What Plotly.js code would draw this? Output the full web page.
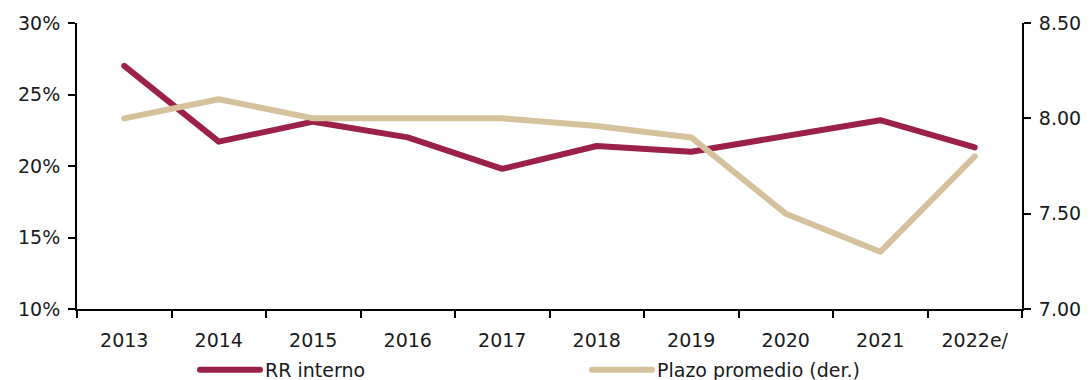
<!DOCTYPE html>
<html>
<head>
<meta charset="utf-8">
<script src="https://cdn.plot.ly/plotly-3.0.1.min.js"></script>
<style>
html,body{margin:0;padding:0;background:#fff;}
#chart{width:1090px;height:380px;}
#chart .scatterlayer path.js-line, #chart .legendlines path {stroke-linecap: round !important; stroke-linejoin: round !important;}
</style>
</head>
<body>
<div id="chart"></div>
<script>
const years = ['2013','2014','2015','2016','2017','2018','2019','2020','2021','2022e/'];
const rrInterno = [27.0, 21.7, 23.1, 22.0, 19.8, 21.4, 21.0, 22.1, 23.2, 21.3];
const plazoPromedio = [8.00, 8.10, 8.00, 8.00, 8.00, 7.96, 7.90, 7.50, 7.30, 7.80];
const leftTicks = [10, 15, 20, 25, 30];
const leftTickText = leftTicks.map(v => v + '%');
const rightTicks = [7.00, 7.50, 8.00, 8.50];
const rightTickText = rightTicks.map(v => v.toFixed(2));
const seriesNames = ['RR interno', 'Plazo promedio (der.)'];

const FONT = 'DejaVu Sans, sans-serif';
const FS = 19;
const TXT = '#1a1a1a';
const maroon = '#9C2149';
const beige = '#D5C29D';

const traces = [
  {x: years, y: rrInterno, type: 'scatter', mode: 'lines', name: seriesNames[0],
   line: {color: maroon, width: 6}, yaxis: 'y', hoverinfo: 'skip'},
  {x: years, y: plazoPromedio, type: 'scatter', mode: 'lines', name: seriesNames[1],
   line: {color: beige, width: 6}, yaxis: 'y2', hoverinfo: 'skip'}
];

const layout = {
  width: 1090, height: 380,
  margin: {l: 77, r: 68, t: 23, b: 71},
  paper_bgcolor: '#fff', plot_bgcolor: '#fff',
  font: {family: FONT, size: FS, color: TXT},
  showlegend: true,
  legend: {orientation: 'h', xref: 'container', yref: 'container',
           x: 195 / 1090, xanchor: 'left', y: 10 / 380, yanchor: 'middle',
           entrywidth: 317, entrywidthmode: 'pixels', itemwidth: 60,
           font: {family: FONT, size: FS, color: TXT}, bgcolor: 'rgba(0,0,0,0)'},
  xaxis: {type: 'category', showgrid: false, zeroline: false, showline: true,
          linecolor: '#000', linewidth: 2, ticks: 'outside', tickson: 'boundaries',
          ticklen: 7, tickwidth: 2, tickcolor: '#000', range: [-0.5, 9.5],
          ticklabelstandoff: 13, tickfont: {family: FONT, size: FS, color: TXT}},
  yaxis: {range: [10, 30], tickvals: leftTicks, ticktext: leftTickText, tickmode: 'array',
          showgrid: false, zeroline: false, showline: true, linecolor: '#000', linewidth: 2,
          ticks: 'outside', ticklen: 7, tickwidth: 2, tickcolor: '#000',
          ticklabelstandoff: 4, tickfont: {family: FONT, size: FS, color: TXT}},
  yaxis2: {range: [7.0, 8.5], tickvals: rightTicks, ticktext: rightTickText, tickmode: 'array',
           overlaying: 'y', side: 'right', showgrid: false, zeroline: false, showline: true,
           linecolor: '#000', linewidth: 2, ticks: 'outside', ticklen: 7, tickwidth: 2,
           tickcolor: '#000', ticklabelstandoff: 4,
           tickfont: {family: FONT, size: FS, color: TXT}},
  annotations: [
    {x: years[8], y: rrInterno[8], xref: 'x', yref: 'y',
     text: rrInterno[9].toFixed(1) + '%', showarrow: false, yanchor: 'bottom', yshift: 4,
     font: {family: FONT, size: FS, color: TXT}},
    {x: years[8], y: plazoPromedio[8], xref: 'x', yref: 'y2',
     text: plazoPromedio[9].toFixed(1), showarrow: false, xshift: 49, yshift: 13,
     font: {family: FONT, size: FS, color: TXT}}
  ]
};

Plotly.newPlot('chart', traces, layout, {displayModeBar: false, staticPlot: true});
</script>
</body>
</html>
